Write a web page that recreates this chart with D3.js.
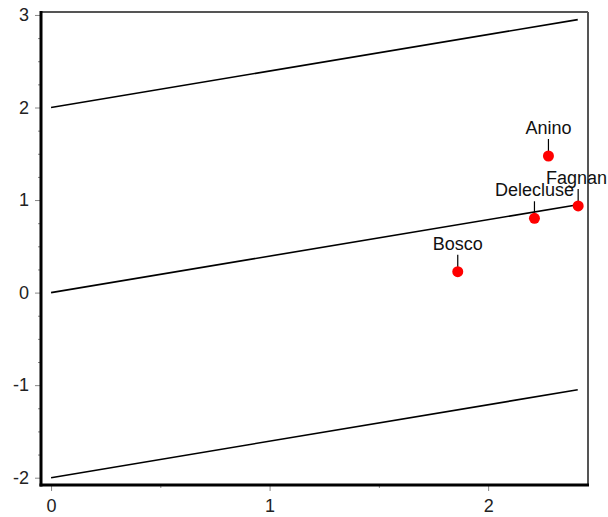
<!DOCTYPE html>
<html>
<head>
<meta charset="utf-8">
<script src="https://cdn.jsdelivr.net/npm/d3@7"></script>
<style>
  body { margin: 0; background: #fff; }
  text { font-family: "Liberation Sans", Arial, sans-serif; }
</style>
</head>
<body>
<div id="chart"></div>
<script>
// data
var names = ["Anino", "Delecluse", "Fagnan", "Bosco"];
var xs = [2.276, 2.212, 2.412, 1.861];
var ys = [1.476, 0.803, 0.936, 0.226];

// reference lines: start / end points
var lineX = [0, 2.41];
var lineStartY = [2, 0, -2];
var lineEndY = [2.95, 0.95, -1.05];

var xTicks = [0, 1, 2];
var xMinorTicks = [0.5, 1.5];
var yTicks = [-2, -1, 0, 1, 2, 3];
var yMinorTicks = [-1.75, -1.5, -1.25, -0.75, -0.5, -0.25, 0.25, 0.5, 0.75,
                   1.25, 1.5, 1.75, 2.25, 2.5, 2.75];

var width = 608;
var height = 517;
var margin = { top: 12, right: 20, bottom: 32, left: 41 };

var svg = d3.select("#chart").append("svg")
  .attr("width", width)
  .attr("height", height);

var xScale = d3.scaleLinear()
  .domain([-0.046, 2.457])
  .range([margin.left, width - margin.right]);

var yScale = d3.scaleLinear()
  .domain([-2.079, 3.032])
  .range([height - margin.bottom, margin.top]);

var x0 = margin.left, x1 = width - margin.right;
var y0 = height - margin.bottom, y1 = margin.top;

// minor ticks
var yMinor = d3.axisLeft(yScale).tickValues(yMinorTicks).tickSize(3).tickFormat("");
var xMinor = d3.axisBottom(xScale).tickValues(xMinorTicks).tickSize(3).tickFormat("");
svg.append("g").attr("transform", `translate(${x0},0)`).call(yMinor);
svg.append("g").attr("transform", `translate(0,${y0})`).call(xMinor);

// major ticks
var yAxis = d3.axisLeft(yScale).tickValues(yTicks).tickSize(6).tickPadding(6)
  .tickFormat(d => d < 0 ? "-" + Math.abs(d) : String(d));
var xAxis = d3.axisBottom(xScale).tickValues(xTicks).tickSize(6).tickPadding(8)
  .tickFormat(d3.format("d"));
svg.append("g").attr("class", "yaxis").attr("transform", `translate(${x0},0)`).call(yAxis);
svg.append("g").attr("class", "xaxis").attr("transform", `translate(0,${y0})`).call(xAxis);

svg.selectAll(".domain").remove();
svg.selectAll(".tick line").attr("stroke", "#888").attr("stroke-width", 1);
svg.selectAll(".tick text")
  .attr("fill", "#222")
  .style("font-size", "18px")
  .style("font-family", "'Liberation Sans', Arial, sans-serif");

// frame
svg.append("line").attr("x1", x0).attr("x2", x1).attr("y1", y1).attr("y2", y1)
  .attr("stroke", "#555").attr("stroke-width", 2);
svg.append("line").attr("x1", x1).attr("x2", x1).attr("y1", y1).attr("y2", y0)
  .attr("stroke", "#555").attr("stroke-width", 2);
svg.append("line").attr("x1", x0).attr("x2", x0).attr("y1", y1 - 1).attr("y2", y0 + 1.5)
  .attr("stroke", "#000").attr("stroke-width", 3);
svg.append("line").attr("x1", x0 - 1.5).attr("x2", x1 + 1).attr("y1", y0).attr("y2", y0)
  .attr("stroke", "#000").attr("stroke-width", 3);

// reference lines
svg.append("g").selectAll("line")
  .data(lineStartY)
  .join("line")
  .attr("x1", xScale(lineX[0]))
  .attr("x2", xScale(lineX[1]))
  .attr("y1", d => yScale(d))
  .attr("y2", (d, i) => yScale(lineEndY[i]))
  .attr("stroke", "#000")
  .attr("stroke-width", 1.6);

// points with labels
var pts = names.map((n, i) => ({ name: n, x: xs[i], y: ys[i] }));

var lab = svg.append("g").selectAll("g")
  .data(pts)
  .join("g")
  .attr("transform", d => `translate(${xScale(d.x)},${yScale(d.y)})`);

lab.append("line")
  .attr("x1", 0).attr("x2", 0)
  .attr("y1", -17).attr("y2", -3)
  .attr("stroke", "#000")
  .attr("stroke-width", 1.2);

lab.append("circle")
  .attr("r", 5.5)
  .attr("fill", "#f00");

lab.append("text")
  .attr("y", -22)
  .attr("text-anchor", "middle")
  .attr("fill", "#111")
  .style("font-size", "18px")
  .text(d => d.name)
  .each(function (d) {
    // keep the label inside the page
    var w = this.getComputedTextLength();
    var right = xScale(d.x) + w / 2;
    if (right > width - 1) d3.select(this).attr("x", width - 1 - right);
  });
</script>
</body>
</html>
